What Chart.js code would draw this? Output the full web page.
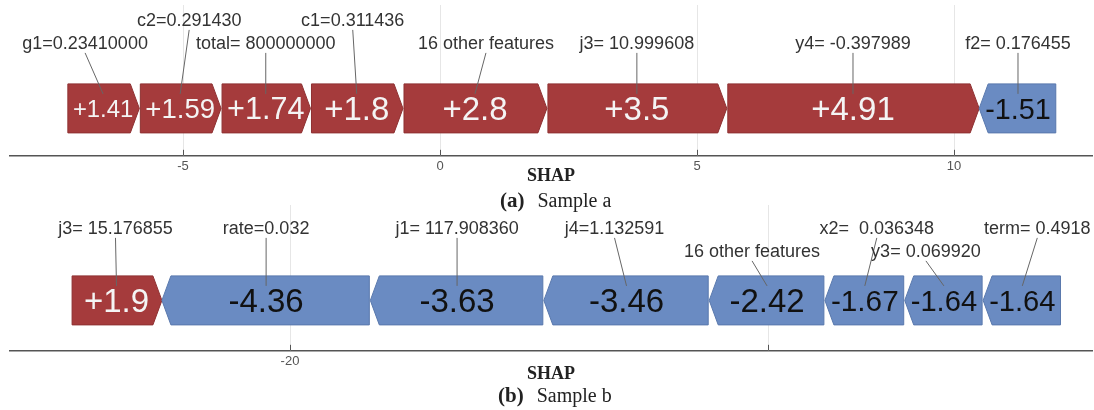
<!DOCTYPE html>
<html>
<head>
<meta charset="utf-8">
<script src="https://cdn.jsdelivr.net/npm/chart.js@4.4.1/dist/chart.umd.min.js"></script>
<style>
  body { margin: 0; background: #fff; width: 1094px; height: 410px; position: relative; overflow: hidden; }
  canvas { position: absolute; left: 0; }
  #chartA { top: 0; }
  #chartB { top: 200px; }
  .cap { position: absolute; font-family: "Liberation Serif", serif; font-size: 20px; color: #222; white-space: nowrap; }
  .cap b { margin-right: 13px; font-size: 21px; }
</style>
</head>
<body>
<canvas id="chartA" width="1094" height="195"></canvas>
<canvas id="chartB" width="1094" height="200"></canvas>
<div class="cap" style="left:500px;top:188px"><b>(a)</b>Sample a</div>
<div class="cap" style="left:498px;top:383px"><b>(b)</b>Sample b</div>
<script>
// sample a
const featuresA = ["g1=0.23410000", "c2=0.291430", "total= 800000000", "c1=0.311436",
  "16 other features", "j3= 10.999608", "y4= -0.397989", "f2= 0.176455"];
const shapA = [1.41, 1.59, 1.74, 1.8, 2.8, 3.5, 4.91, -1.51];
const outputA = 10.49;
const ticksA = [-5, 0, 5, 10];
const tickLabelsA = ["-5", "0", "5", "10"];

// sample b
const featuresB = ["j3= 15.176855", "rate=0.032", "j1= 117.908360", "j4=1.132591",
  "16 other features", "x2=  0.036348", "y3= 0.069920", "term= 0.4918"];
const shapB = [1.9, -4.36, -3.63, -3.46, -2.42, -1.67, -1.64, -1.64];
const outputB = -22.68;
const ticksB = [-20, -10];
const tickLabelsB = ["-20", ""]; // -10 has a grid line but no label in the figure

// label placement: which text line, and a small sideways nudge (px)
const labelRowA = [1, 0, 1, 0, 1, 1, 1, 1];
const labelNudgeA = [-18, 9, 0, -4, 11, 0, 0, 0];
const labelRowB = [0, 0, 0, 0, 1, 0, 1, 0];
const labelNudgeB = [-1, 0, 0, -12, -15, 12, -18, 15];

const RED = "#a53b3c";
const BLUE = "#6a8bc2";
const SANS = "'Liberation Sans', Arial, sans-serif";

// positives stack up to the output from the left, negatives run from it to the right
function segments(shap, output) {
  let lo = output - shap.filter(v => v > 0).reduce((a, b) => a + b, 0);
  let hi = output;
  return shap.map(v => {
    if (v > 0) { const s = [lo, lo + v]; lo += v; return s; }
    const s = [hi, hi - v]; hi -= v; return s;
  });
}

function forcePlugin(shap, features, rows, nudges, rowY) {
  return {
    id: "force",
    beforeDatasetsDraw(chart) {
      const { ctx, chartArea, scales: { x } } = chart;
      ctx.save();
      ctx.strokeStyle = "#e6e6e6";
      ctx.lineWidth = 1;
      x.ticks.forEach(t => {
        const px = Math.round(x.getPixelForValue(t.value)) + 0.5;
        ctx.beginPath();
        ctx.moveTo(px, 5);
        ctx.lineTo(px, chartArea.bottom);
        ctx.stroke();
      });
      ctx.restore();
    },
    afterDatasetsDraw(chart) {
      const { ctx, chartArea, scales: { x } } = chart;
      const d = 9; // chevron depth
      ctx.save();
      shap.forEach((v, i) => {
        const bar = chart.getDatasetMeta(i).data[0];
        const x0 = Math.min(bar.x, bar.base), x1 = Math.max(bar.x, bar.base);
        const top = bar.y - bar.height / 2, bot = bar.y + bar.height / 2, mid = bar.y;
        ctx.beginPath();
        if (v > 0) {
          ctx.moveTo(x0 + 1, top);
          ctx.lineTo(x1 - d, top);
          ctx.lineTo(x1, mid);
          ctx.lineTo(x1 - d, bot);
          ctx.lineTo(x0 + 1, bot);
        } else {
          ctx.moveTo(x0, mid);
          ctx.lineTo(x0 + d, top);
          ctx.lineTo(x1 - 1, top);
          ctx.lineTo(x1 - 1, bot);
          ctx.lineTo(x0 + d, bot);
        }
        ctx.closePath();
        ctx.fillStyle = v > 0 ? RED : BLUE;
        ctx.fill();
        ctx.strokeStyle = v > 0 ? "#8e3132" : "#5a79ad";
        ctx.lineWidth = 1;
        ctx.stroke();

        // value text, shrunk to fit narrow bars
        const txt = (v > 0 ? "+" : "") + v;
        ctx.font = "100px " + SANS;
        const unit = ctx.measureText(txt).width / 100;
        const size = Math.min(33, (x1 - x0 - 12) / unit);
        ctx.font = size + "px " + SANS;
        ctx.fillStyle = v > 0 ? "#f4f4f4" : "#111";
        ctx.textAlign = "center";
        ctx.textBaseline = "alphabetic";
        ctx.fillText(txt, (x0 + x1) / 2, mid + size * 0.36);

        // feature label and leader line
        const lx = (x0 + x1) / 2 + nudges[i];
        const ly = top + rowY[rows[i]];
        ctx.strokeStyle = "#666";
        ctx.lineWidth = 1;
        ctx.beginPath();
        ctx.moveTo(lx, ly + 9);
        ctx.lineTo((x0 + x1) / 2, top + 10);
        ctx.stroke();
        ctx.font = "18px " + SANS;
        ctx.fillStyle = "#333";
        ctx.textBaseline = "middle";
        ctx.fillText(features[i], lx, ly);
      });

      // small tick marks sitting on the axis
      ctx.strokeStyle = "#555";
      x.ticks.forEach(t => {
        const px = Math.round(x.getPixelForValue(t.value)) + 0.5;
        ctx.beginPath();
        ctx.moveTo(px, chartArea.bottom - 6);
        ctx.lineTo(px, chartArea.bottom);
        ctx.stroke();
      });
      ctx.restore();
    }
  };
}

function forcePlot(id, shap, output, features, ticks, tickLabels, range, rows, nudges, rowY, pad, titleTop) {
  const segs = segments(shap, output);
  new Chart(document.getElementById(id), {
    type: "bar",
    data: {
      labels: [""],
      datasets: segs.map(s => ({
        data: [s],
        backgroundColor: "rgba(0,0,0,0)",
        borderWidth: 0,
        barThickness: 49,
        grouped: false
      }))
    },
    options: {
      indexAxis: "y",
      responsive: false,
      animation: false,
      layout: { padding: pad },
      scales: {
        x: {
          type: "linear",
          min: range[0],
          max: range[1],
          afterBuildTicks: scale => { scale.ticks = ticks.map(v => ({ value: v })); },
          ticks: {
            callback: (val) => tickLabels[ticks.indexOf(val)],
            font: { family: SANS, size: 13 },
            color: "#555",
            padding: 3,
            maxRotation: 0
          },
          grid: { drawOnChartArea: false, drawTicks: false },
          border: { color: "#555", width: 1.5 },
          title: {
            display: true,
            text: "SHAP",
            color: "#222",
            font: { family: "'Liberation Serif', serif", size: 18, weight: "bold" },
            padding: { top: titleTop, bottom: 0 }
          }
        },
        y: { display: false }
      },
      plugins: {
        legend: { display: false },
        tooltip: { enabled: false }
      }
    },
    plugins: [forcePlugin(shap, features, rows, nudges, rowY)]
  });
}

forcePlot("chartA", shapA, outputA, featuresA, ticksA, tickLabelsA, [-8.366, 12.685],
  labelRowA, labelNudgeA, [-63, -40], { top: 61, left: 10, right: 2, bottom: 8 }, -12);
forcePlot("chartB", shapB, outputB, featuresB, ticksB, tickLabelsB, [-25.858, -3.222],
  labelRowB, labelNudgeB, [-47, -24], { top: 50, left: 10, right: 2, bottom: 15 }, -9);
</script>
</body>
</html>
